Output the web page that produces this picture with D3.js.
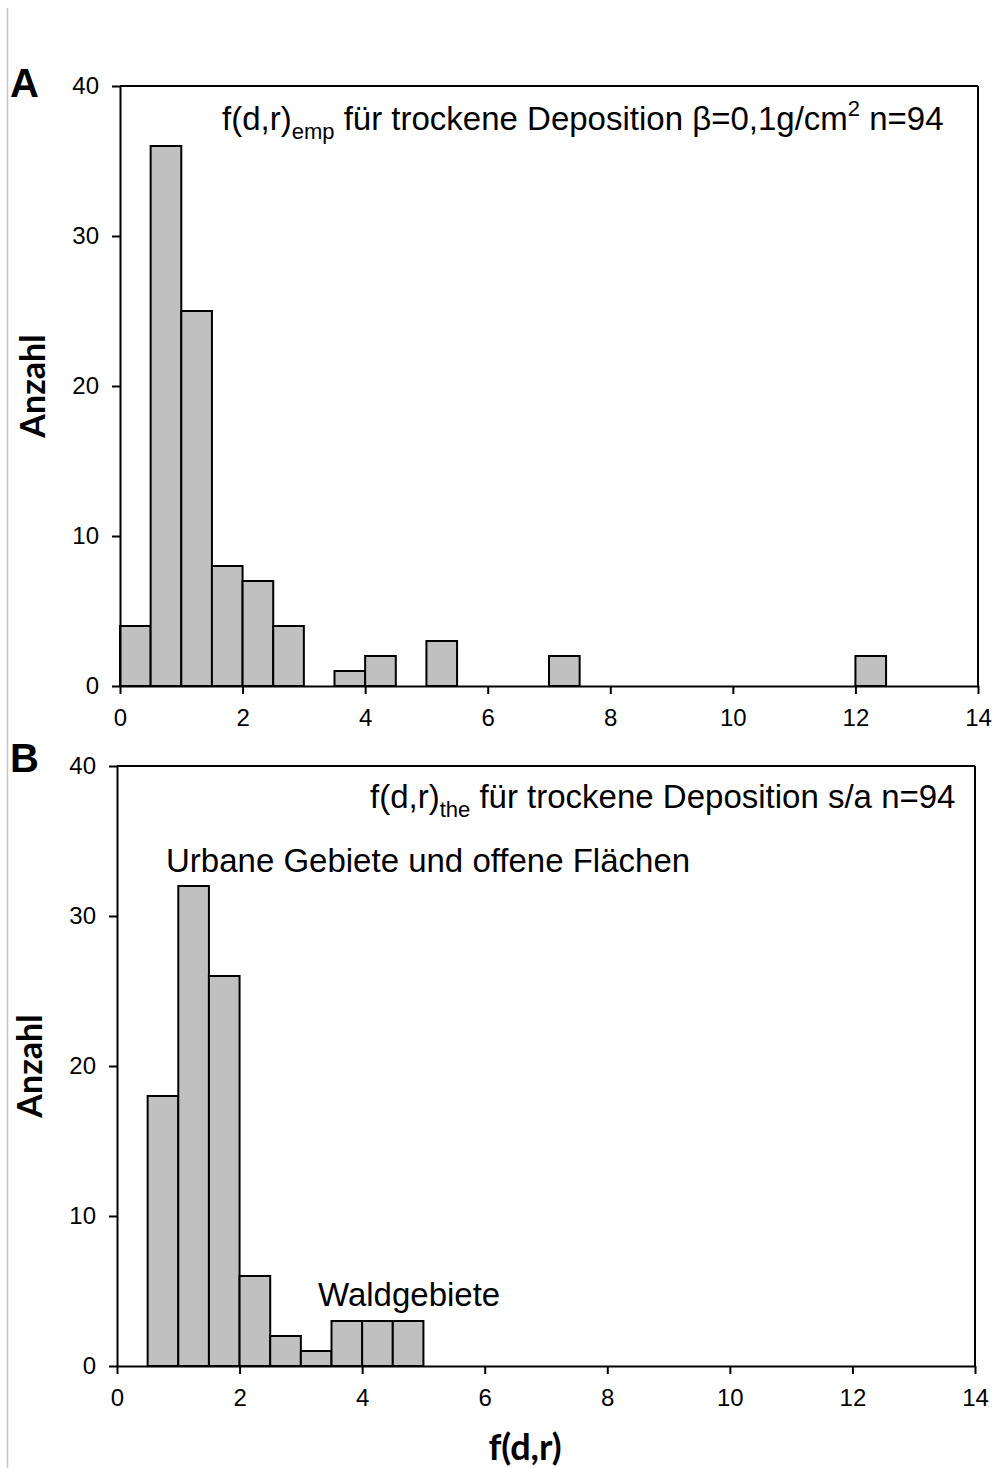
<!DOCTYPE html>
<html>
<head>
<meta charset="utf-8">
<script src="https://cdn.jsdelivr.net/npm/d3@7"></script>
<style>
  html, body { margin: 0; padding: 0; background: #fff; }
  svg { display: block; }
  text { font-family: "Liberation Sans", Arial, sans-serif; fill: #000; }
</style>
</head>
<body>
<svg id="chart" width="994" height="1468"></svg>
<script>
// Histogram bins of f(d,r), width 0.5
const binEdgesA = [0, 0.5, 1, 1.5, 2, 2.5, 3.5, 4, 5, 7, 12];
const countsA   = [4, 36, 25, 8, 7, 4, 1, 2, 3, 2, 2];
const binEdgesB = [0.5, 1, 1.5, 2, 2.5, 3, 3.5, 4, 4.5];
const countsB   = [18, 32, 26, 6, 2, 1, 3, 3, 3];
const binWidth = 0.5;

const xTicks = [0, 2, 4, 6, 8, 10, 12, 14];
const yTicks = [0, 10, 20, 30, 40];
const yLabel = "Anzahl";
const xLabel = "f(d,r)";

const svg = d3.select("#chart");

// thin frame line along the left edge
svg.append("line").attr("x1", 7.5).attr("x2", 7.5).attr("y1", 8).attr("y2", 1468)
  .attr("stroke", "#c4c4c4").attr("stroke-width", 1.5);

function panel(cfg) {
  const x = d3.scaleLinear().domain([0, 14]).range([cfg.left, cfg.right]);
  const y = d3.scaleLinear().domain([0, 40]).range([cfg.bottom, cfg.top]);
  const g = svg.append("g");

  const data = cfg.edges.map((e, i) => ({ x0: e, x1: e + binWidth, n: cfg.counts[i] }));

  g.selectAll("rect.bar").data(data).join("rect")
    .attr("class", "bar")
    .attr("x", d => x(d.x0))
    .attr("y", d => y(d.n))
    .attr("width", d => x(d.x1) - x(d.x0))
    .attr("height", d => y(0) - y(d.n))
    .attr("fill", "#c0c0c0")
    .attr("stroke", "#000")
    .attr("stroke-width", 2);

  // frame top and right
  g.append("line").attr("x1", x(0)).attr("x2", x(14)).attr("y1", y(40)).attr("y2", y(40))
    .attr("stroke", "#000").attr("stroke-width", 2);
  g.append("line").attr("x1", x(14)).attr("x2", x(14)).attr("y1", y(40)).attr("y2", y(0))
    .attr("stroke", "#000").attr("stroke-width", 2);

  const xAxis = g.append("g").attr("transform", `translate(0,${y(0)})`)
    .call(d3.axisBottom(x).tickValues(xTicks).tickSize(8).tickSizeOuter(0).tickPadding(15));
  const yAxis = g.append("g").attr("transform", `translate(${x(0)},0)`)
    .call(d3.axisLeft(y).tickValues(yTicks).tickSize(8).tickSizeOuter(0).tickPadding(13));

  [xAxis, yAxis].forEach(a => {
    a.select(".domain").attr("stroke", "#000").attr("stroke-width", 2);
    a.selectAll(".tick line").attr("stroke", "#000").attr("stroke-width", 2);
    a.selectAll(".tick text").attr("font-size", 24).attr("fill", "#000")
      .style("font-family", "'Liberation Sans', Arial, sans-serif");
  });

  // panel letter
  g.append("text").attr("x", 10).attr("y", cfg.letterY).attr("font-size", 40)
    .attr("font-weight", "bold").text(cfg.letter);

  // y-axis title
  g.append("text")
    .attr("transform", `translate(${cfg.yLabelX},${(y(0) + y(40)) / 2}) rotate(-90)`)
    .attr("text-anchor", "middle")
    .attr("font-size", 34).attr("font-weight", "bold")
    .style("font-family", "Lato, 'Open Sans', sans-serif")
    .text(yLabel);

  // header text with subscript
  const t = g.append("text").attr("x", cfg.titleX).attr("y", cfg.titleY).attr("font-size", 33);
  t.append("tspan").text("f(d,r)");
  t.append("tspan").attr("font-size", 22).attr("dy", 9).text(cfg.sub);
  t.append("tspan").attr("dy", -9).text(" " + cfg.rest1);
  if (cfg.sup) {
    t.append("tspan").attr("font-size", 22).attr("dy", -14).text(cfg.sup);
    t.append("tspan").attr("dy", 14).text(" " + cfg.rest2);
  }
  return { g, x, y };
}

panel({
  left: 120, right: 978, top: 86, bottom: 686,
  edges: binEdgesA, counts: countsA,
  letter: "A", letterY: 97, yLabelX: 45,
  titleX: 222, titleY: 130, sub: "emp",
  rest1: "für trockene Deposition β=0,1g/cm", sup: "2", rest2: "n=94"
});

const pB = panel({
  left: 117, right: 975, top: 766, bottom: 1366,
  edges: binEdgesB, counts: countsB,
  letter: "B", letterY: 772, yLabelX: 42,
  titleX: 370, titleY: 808, sub: "the",
  rest1: "für trockene Deposition s/a n=94"
});

pB.g.append("text").attr("x", 166).attr("y", 872).attr("font-size", 33)
  .text("Urbane Gebiete und offene Flächen");
pB.g.append("text").attr("x", 318).attr("y", 1306).attr("font-size", 33)
  .text("Waldgebiete");

svg.append("text").attr("x", 525).attr("y", 1460).attr("text-anchor", "middle")
  .attr("font-size", 36).attr("font-weight", "bold")
  .style("font-family", "Lato, 'Open Sans', sans-serif")
  .text(xLabel);
</script>
</body>
</html>
